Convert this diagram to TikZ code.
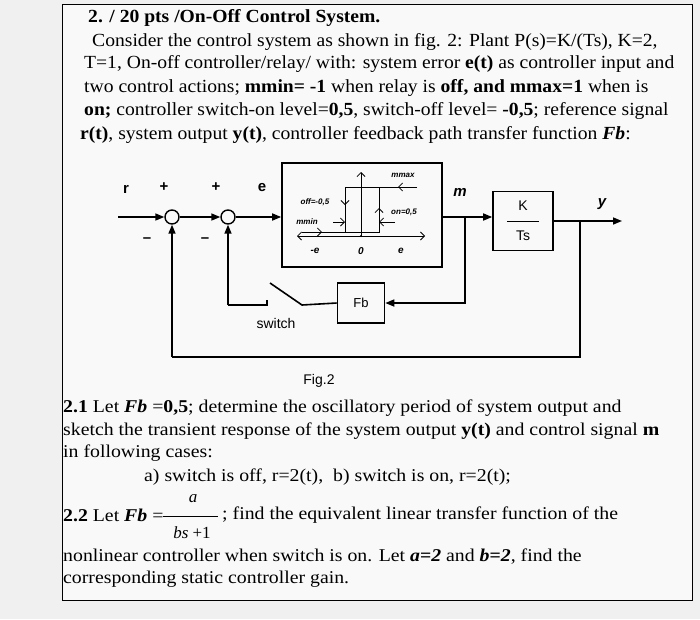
\documentclass[tikz,border=0pt]{standalone}
\usepackage{fontspec}
\setmainfont{Liberation Serif}
\setsansfont{Liberation Sans}
\usetikzlibrary{arrows.meta}
\newcommand{\Wt}[1]{\scalebox{1.06}[1]{#1}}
\newcommand{\Wb}[1]{\scalebox{1.1}[1]{#1}}
\begin{document}
\begin{tikzpicture}[x=1pt,y=-1pt,
  txt/.style={anchor=west,inner sep=0pt,font=\fontsize{18.5}{20}\selectfont},
  btxt/.style={anchor=west,inner sep=0pt,font=\fontsize{18}{20}\selectfont},
  lab/.style={inner sep=0pt,font=\sffamily\bfseries\itshape\fontsize{8}{9}\selectfont},
  biglab/.style={inner sep=0pt,font=\sffamily\bfseries\fontsize{15}{16}\selectfont},
  blk/.style={draw,line width=1.6pt,minimum width=0pt,minimum height=0pt,inner sep=0pt},
  sum/.style={draw,circle,line width=1.4pt,minimum size=14pt,inner sep=0pt},
  sig/.style={line width=1.6pt,-{Triangle[length=9pt,width=7pt]}},
  ln/.style={line width=1.6pt},
  thin/.style={line width=0.8pt}]
\useasboundingbox (0,0) rectangle (700,619);
\fill[gray!12] (0,0) rectangle (700,619);
\draw[line width=1pt,fill=gray!5] (62,4) rectangle (692,600);
% text top
\node[txt,font=\bfseries\fontsize{18.5}{20}\selectfont] (t1) at (88,18) {\Wt{2. / 20 pts /On-Off Control System.}};
\node[txt] (t2) at (92,42) {\Wt{Consider the control system as shown in fig. 2: Plant P(s)=K/(Ts), K=2,}};
\node[txt] (t3) at (84,64) {\Wt{T=1, On-off controller/relay/ with: system error \textbf{e(t)} as controller input and}};
\node[txt] (t4) at (84,88) {\Wt{two control actions; \textbf{mmin= -1} when relay is \textbf{off, and mmax=1} when is}};
\node[txt] (t5) at (84,111) {\Wt{\textbf{on;} controller switch-on level=\textbf{0,5}, switch-off level= \textbf{-0,5}; reference signal}};
\node[txt] (t6) at (80,135) {\Wt{\textbf{r(t)}, system output \textbf{y(t)}, controller feedback path transfer function \textbf{\textit{Fb}}:}};
% diagram
\node[sum] (s1) at (172,217) {};
\node[sum] (s2) at (228,217) {};
\node[blk,minimum width=160pt,minimum height=104pt] (relay) at (362,215) {};
\node[blk,minimum width=60pt,minimum height=59pt] (plant) at (523,221) {};
\node[font=\sffamily\fontsize{14}{15}\selectfont] (K) at (523,206) {K};
\node[font=\sffamily\fontsize{14}{15}\selectfont] (Ts) at (523,236) {Ts};
\draw[thin] (507,221) -- (539,221);
\node[blk,minimum width=47pt,minimum height=40pt,font=\sffamily\fontsize{13}{14}\selectfont] (fb) at (361,303) {Fb};
\coordinate (in) at (118,217);
\coordinate (mb) at (465,217);
\coordinate (yb) at (580,221);
\coordinate (out) at (622,221);
\draw[sig] (in) -- (s1);
\draw[sig] (s1) -- (s2);
\draw[sig] (s2) -- (relay.west |- s2);
\draw[ln] (relay.east |- mb) -- (mb);
\draw[sig] (mb) -- (plant.west |- mb);
\draw[ln] (plant.east |- yb) -- (yb);
\draw[sig] (yb) -- (out);
\draw[sig] (mb) |- (fb.east);
\coordinate (sw1) at (302,305);
\coordinate (sw2) at (270,283);
\coordinate (sw3) at (267,300);
\coordinate (sw4) at (267,305);
\draw[ln] (fb.west) -- (sw1) -- (sw2);
\draw[ln] (sw3) -- (sw4) -- (228,305);
\draw[sig] (228,305) -- (s2.south);
\draw[ln] (yb) -- (580,357) -- (172,357);
\draw[sig] (172,357) -- (s1.south);
% relay characteristic
\coordinate (o) at (361,236);
\draw[thin,-{Straight Barb[length=4pt]}] (o) -- (361,172);
\draw[thin,{Straight Barb[length=4pt]}-{Straight Barb[length=4pt]}] (297,236) -- (425,236);
\draw[thin] (302,232) -- (379,232) -- (379,187);
\draw[thin] (345,232) -- (345,187) -- (417,187);
\draw[thin,-{Straight Barb[length=4pt]}] (417,187) -- (398,187);
\draw[thin,-{Straight Barb[length=4pt]}] (302,232) -- (322,232);
\draw[thin,-{Straight Barb[length=4pt]}] (345,195) -- (345,205);
\draw[thin,-{Straight Barb[length=4pt]}] (379,220) -- (379,208);
\draw[thin,-{Straight Barb[length=4pt]}] (333,222) -- (345,222);
\draw[thin,-{Straight Barb[length=4pt]}] (395,222) -- (379,222);
\fill (o) circle (1.2pt);
\node[lab] (lmax) at (403,175) {mmax};
\node[lab] (loff) at (315,202) {off=-0,5};
\node[lab] (lon) at (404,212) {on=0,5};
\node[lab] (lmin) at (307,222) {mmin};
\node[lab,font=\sffamily\bfseries\itshape\fontsize{10}{11}\selectfont] (lme) at (315,251) {-e};
\node[lab,font=\sffamily\bfseries\itshape\fontsize{10}{11}\selectfont] (l0) at (361,251) {0};
\node[lab,font=\sffamily\bfseries\itshape\fontsize{10}{11}\selectfont] (le) at (401,251) {e};
% outer labels
\node[biglab] (lr) at (126,189) {r};
\node[biglab] (lp1) at (164,187) {+};
\node[biglab] (lp2) at (216,187) {+};
\node[biglab] (lee) at (262,188) {e};
\node[biglab] (lm1) at (147,240) {\textbf{--}};
\node[biglab] (lm2) at (205,240) {\textbf{--}};
\node[biglab,font=\sffamily\bfseries\itshape\fontsize{15}{16}\selectfont] (lm) at (460,192) {m};
\node[biglab,font=\sffamily\bfseries\itshape\fontsize{15}{16}\selectfont] (ly) at (602,204) {y};
\node[font=\sffamily\fontsize{14}{15}\selectfont] (lsw) at (276,323) {switch};
\node[font=\sffamily\fontsize{14}{15}\selectfont] (fig) at (319,381) {Fig.2};
% text bottom
\node[btxt] (b1) at (63,408) {\Wb{\textbf{2.1} Let \textbf{\textit{Fb}} =\textbf{0,5}; determine the oscillatory period of system output and}};
\node[btxt] (b2) at (63,431) {\Wb{sketch the transient response of the system output \textbf{y(t)} and control signal \textbf{m}}};
\node[btxt] (b3) at (63,453) {\Wb{in following cases:}};
\node[btxt] (b4) at (144,477) {\Wb{a) switch is off, r=2(t), \ b) switch is on, r=2(t);}};
\node[btxt] (b5) at (63,515) {\Wb{\textbf{2.2} Let \textbf{\textit{Fb}} =}};
\node[btxt] (b5b) at (222,515) {\Wb{; find the equivalent linear transfer function of the}};
\node[font=\itshape\fontsize{17}{18}\selectfont] (na) at (193,499) {a};
\node[font=\fontsize{17}{18}\selectfont] (nb) at (192,533) {\textit{bs} +1};
\draw[thin] (163,516) -- (218,516);
\node[btxt] (b6) at (63,557) {\Wb{nonlinear controller when switch is on. Let \textbf{\textit{a}=\textit{2}} and \textbf{\textit{b}=\textit{2}}, find the}};
\node[btxt] (b7) at (63,579) {\Wb{corresponding static controller gain.}};
\end{tikzpicture}
\end{document}
